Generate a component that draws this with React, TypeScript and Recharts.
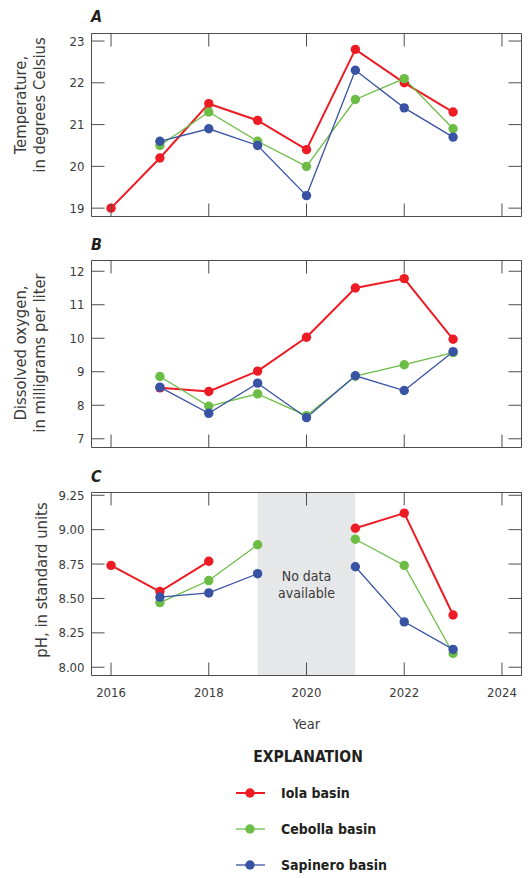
import { LineChart, Line, XAxis, YAxis, ReferenceArea, Label } from 'recharts';

const FONT = "'Liberation Sans Narrow', 'Arial Narrow', 'DejaVu Sans Condensed', sans-serif";
const AXIS = '#4d4d4d';
const TEXT = '#3a3a3a';
const TICK_LEN = 13;
const PLOT_LEFT = 91.5;
const PLOT_RIGHT = 521.5;

const YEARS = [2016, 2017, 2018, 2019, 2020, 2021, 2022, 2023];
const X_TICKS = [2016, 2018, 2020, 2022, 2024];
const X_DOMAIN: [number, number] = [2015.6, 2024.4];

// A - water temperature
const TEMP_IOLA = [19.0, 20.2, 21.5, 21.1, 20.4, 22.8, 22.0, 21.3];
const TEMP_CEBOLLA = [null, 20.5, 21.3, 20.6, 20.0, 21.6, 22.1, 20.9];
const TEMP_SAPINERO = [null, 20.6, 20.9, 20.5, 19.3, 22.3, 21.4, 20.7];
const TEMP_TICKS = [19, 20, 21, 22, 23];

// B - dissolved oxygen
const DO_IOLA = [null, 8.52, 8.41, 9.02, 10.03, 11.5, 11.78, 9.97];
const DO_CEBOLLA = [null, 8.86, 7.97, 8.34, 7.69, 8.87, 9.21, 9.57];
const DO_SAPINERO = [null, 8.54, 7.76, 8.66, 7.63, 8.88, 8.44, 9.6];
const DO_TICKS = [7, 8, 9, 10, 11, 12];

// C - pH
const PH_IOLA = [8.74, 8.55, 8.77, null, null, 9.01, 9.12, 8.38];
const PH_CEBOLLA = [null, 8.47, 8.63, 8.89, null, 8.93, 8.74, 8.1];
const PH_SAPINERO = [null, 8.51, 8.54, 8.68, null, 8.73, 8.33, 8.13];
const PH_TICKS = [8.0, 8.25, 8.5, 8.75, 9.0, 9.25];
const NO_DATA: [number, number] = [2019, 2021];

const SERIES = [
  { key: 'iola', name: 'Iola basin', color: '#ed1c24', width: 2 },
  { key: 'cebolla', name: 'Cebolla basin', color: '#6cbd45', width: 1.3 },
  { key: 'sapinero', name: 'Sapinero basin', color: '#3953a4', width: 1.3 },
];

function toRows(iola: (number | null)[], cebolla: (number | null)[], sapinero: (number | null)[]) {
  return YEARS.map((year, i) => ({ year, iola: iola[i], cebolla: cebolla[i], sapinero: sapinero[i] }));
}

function YTick(props: any) {
  const { x, y, payload, plotWidth, digits } = props;
  return (
    <g>
      <line x1={x} x2={x + TICK_LEN} y1={y} y2={y} stroke={AXIS} />
      <line x1={x + plotWidth - TICK_LEN} x2={x + plotWidth} y1={y} y2={y} stroke={AXIS} />
      <text x={x - 7} y={y} textAnchor="end" dominantBaseline="central" fontSize={13} fill={TEXT} fontFamily={FONT}>
        {Number(payload.value).toFixed(digits)}
      </text>
    </g>
  );
}

function XTick(props: any) {
  const { x, y, payload, plotHeight, showLabel } = props;
  return (
    <g>
      <line x1={x} x2={x} y1={y} y2={y - TICK_LEN} stroke={AXIS} />
      <line x1={x} x2={x} y1={y - plotHeight} y2={y - plotHeight + TICK_LEN} stroke={AXIS} />
      {showLabel && (
        <text x={x} y={y + 17} textAnchor="middle" dominantBaseline="central" fontSize={13} fill={TEXT} fontFamily={FONT}>
          {payload.value}
        </text>
      )}
    </g>
  );
}

interface PanelProps {
  boxTop: number;
  plotHeight: number;
  data: Record<string, number | null>[];
  yDomain: [number, number];
  yTicks: number[];
  digits: number;
  yLabel: string[];
  labelShift: number;
  showYears?: boolean;
  band?: [number, number];
}

function Panel({ boxTop, plotHeight, data, yDomain, yTicks, digits, yLabel, labelShift, showYears, band }: PanelProps) {
  const mTop = 10.5;
  const mBottom = 10;
  const xAxisH = showYears ? 60 : 1;
  const height = mTop + plotHeight + xAxisH + mBottom;
  const plotWidth = PLOT_RIGHT - PLOT_LEFT;

  const yLabelContent = (p: any) => {
    const vb = p.viewBox;
    const cy = vb.y + vb.height / 2 + labelShift;
    const xs = yLabel.length === 2 ? [20, 39] : [41];
    return (
      <g>
        {yLabel.map((line, i) => (
          <text
            key={i}
            x={xs[i]}
            y={cy}
            transform={`rotate(-90, ${xs[i]}, ${cy})`}
            textAnchor="middle"
            dominantBaseline="central"
            fontSize={16.5}
            fill={TEXT}
            fontFamily={FONT}
          >
            {line}
          </text>
        ))}
      </g>
    );
  };

  return (
    <div style={{ position: 'absolute', left: 0, top: boxTop - 10 }}>
      <LineChart
        width={528}
        height={height}
        data={data}
        margin={{ top: mTop, right: 528 - PLOT_RIGHT, bottom: mBottom, left: 0 }}
      >
        <XAxis
          dataKey="year"
          type="number"
          domain={X_DOMAIN}
          ticks={X_TICKS}
          interval={0}
          allowDataOverflow
          height={xAxisH}
          tickSize={0}
          tickMargin={0}
          axisLine={false}
          tickLine={false}
          tick={(p: any) => <XTick {...p} plotHeight={plotHeight} showLabel={!!showYears} />}
        >
          {showYears && (
            <Label
              content={(p: any) => (
                <text
                  x={p.viewBox.x + p.viewBox.width / 2}
                  y={p.viewBox.y + 48}
                  textAnchor="middle"
                  dominantBaseline="central"
                  fontSize={14.5}
                  fill={TEXT}
                  fontFamily={FONT}
                >
                  Year
                </text>
              )}
            />
          )}
        </XAxis>
        <YAxis
          type="number"
          domain={yDomain}
          ticks={yTicks}
          interval={0}
          allowDataOverflow
          width={PLOT_LEFT}
          tickSize={0}
          tickMargin={0}
          axisLine={false}
          tickLine={false}
          tick={(p: any) => <YTick {...p} plotWidth={plotWidth} digits={digits} />}
          label={{ content: yLabelContent }}
        />
        {band && (
          <ReferenceArea
            x1={band[0]}
            x2={band[1]}
            y1={yDomain[0]}
            y2={yDomain[1]}
            fill="#e6e7e8"
            fillOpacity={1}
            stroke="none"
            label={(p: any) => {
              const vb = p.viewBox;
              const cx = vb.x + vb.width / 2;
              const cy = vb.y + vb.height / 2;
              return (
                <g>
                  <text x={cx} y={cy - 8} textAnchor="middle" dominantBaseline="central" fontSize={14} fill={TEXT} fontFamily={FONT}>
                    No data
                  </text>
                  <text x={cx} y={cy + 9} textAnchor="middle" dominantBaseline="central" fontSize={14} fill={TEXT} fontFamily={FONT}>
                    available
                  </text>
                </g>
              );
            }}
          />
        )}
        <ReferenceArea
          x1={X_DOMAIN[0]}
          x2={X_DOMAIN[1]}
          y1={yDomain[0]}
          y2={yDomain[1]}
          fill="none"
          stroke={AXIS}
          strokeWidth={1}
        />
        {SERIES.map((s) => (
          <Line
            key={s.key}
            dataKey={s.key}
            name={s.name}
            type="linear"
            stroke={s.color}
            strokeWidth={s.width}
            dot={{ r: 4.7, fill: s.color, stroke: s.color, strokeWidth: 0 }}
            activeDot={false}
            connectNulls={false}
            isAnimationActive={false}
          />
        ))}
      </LineChart>
    </div>
  );
}

export default function App() {
  const legendY = [793, 829, 865];
  return (
    <div style={{ position: 'absolute', left: 0, top: 0, width: 528, height: 878, background: '#fff' }}>
      <Panel
        boxTop={33}
        plotHeight={183}
        data={toRows(TEMP_IOLA, TEMP_CEBOLLA, TEMP_SAPINERO)}
        yDomain={[18.8, 23.18]}
        yTicks={TEMP_TICKS}
        digits={0}
        yLabel={['Temperature,', 'in degrees Celsius']}
        labelShift={-20}
      />
      <Panel
        boxTop={260}
        plotHeight={187}
        data={toRows(DO_IOLA, DO_CEBOLLA, DO_SAPINERO)}
        yDomain={[6.74, 12.32]}
        yTicks={DO_TICKS}
        digits={0}
        yLabel={['Dissolved oxygen,', 'in milligrams per liter']}
        labelShift={-1}
      />
      <Panel
        boxTop={492}
        plotHeight={183}
        data={toRows(PH_IOLA, PH_CEBOLLA, PH_SAPINERO)}
        yDomain={[7.94, 9.27]}
        yTicks={PH_TICKS}
        digits={2}
        yLabel={['pH, in standard units']}
        labelShift={-4}
        showYears
        band={NO_DATA}
      />
      <svg width={528} height={878} style={{ position: 'absolute', left: 0, top: 0, pointerEvents: 'none' }}>
        {[['A', 22], ['B', 250], ['C', 482]].map(([l, y]) => (
          <text key={l} x={91} y={y as number} fontSize={16} fontWeight="bold" fontStyle="italic" fill="#231f20" fontFamily={FONT}>
            {l}
          </text>
        ))}
        <text x={308} y={757} textAnchor="middle" dominantBaseline="central" fontSize={15.5} fontWeight="bold" fill="#231f20" fontFamily={FONT}>
          EXPLANATION
        </text>
        {SERIES.map((s, i) => (
          <g key={s.key}>
            <line x1={236} x2={265} y1={legendY[i]} y2={legendY[i]} stroke={s.color} strokeWidth={s.width} />
            <circle cx={250} cy={legendY[i]} r={4.7} fill={s.color} />
            <text x={281} y={legendY[i]} dominantBaseline="central" fontSize={14} fontWeight="bold" fill="#231f20" fontFamily={FONT}>
              {s.name}
            </text>
          </g>
        ))}
      </svg>
    </div>
  );
}
